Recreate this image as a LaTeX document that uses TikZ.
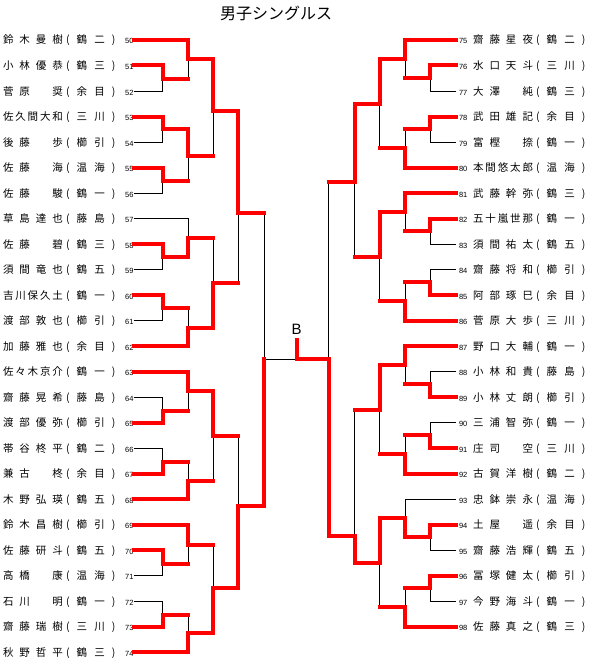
\documentclass[tikz,border=0pt]{standalone}
\usepackage{fontspec}
\setmainfont{Noto Sans CJK JP}
\newfontfamily\numfont{Liberation Sans}
\usetikzlibrary{positioning}

\newcommand{\kara}{\hbox to 1em{}}
\newcommand{\lname}[3]{{\spaceskip=0pt plus 1fil\makebox[60pt][s]{#1}\hspace{3pt}\makebox[49.5pt][s]{( #2 )}}\makebox[18pt][r]{\numfont\fontsize{7.5}{8}\selectfont #3}\hspace{3pt}}
\newcommand{\rname}[3]{\hspace{3pt}\makebox[14pt][l]{\numfont\fontsize{7.5}{8}\selectfont #1}{\spaceskip=0pt plus 1fil\makebox[60pt][s]{#2}\hspace{3pt}\makebox[49.5pt][s]{( #3 )}}}

\begin{document}
\begin{tikzpicture}[x=1pt, y=-1pt,
    player/.style={inner sep=0pt, text height=8pt, text depth=0pt, font=\fontsize{10.5}{12}\selectfont, node distance=25.5pt},
    lose/.style={draw=black, line width=1pt},
    win/.style={draw=red, line width=4pt, line cap=rect}
]
    \useasboundingbox (0,0) rectangle (593,669);
    \node (title) at (276,13.5) {\fontsize{16}{18}\selectfont 男子シングルス};
    \node (champ) at (296.5,329) {\numfont\fontsize{15}{16}\selectfont B};

    \node (p50) [player] at (68.25,40) {\lname{鈴 木 曼 樹}{鶴 二}{50}};
    \node (p51) [player, below of=p50] {\lname{小 林 優 恭}{鶴 三}{51}};
    \node (p52) [player, below of=p51] {\lname{菅 原 \kara{} 奨}{余 目}{52}};
    \node (p53) [player, below of=p52] {\lname{佐 久 間 大 和}{三 川}{53}};
    \node (p54) [player, below of=p53] {\lname{後 藤 \kara{} 歩}{櫛 引}{54}};
    \node (p55) [player, below of=p54] {\lname{佐 藤 \kara{} 海}{温 海}{55}};
    \node (p56) [player, below of=p55] {\lname{佐 藤 \kara{} 駿}{鶴 一}{56}};
    \node (p57) [player, below of=p56] {\lname{草 島 達 也}{藤 島}{57}};
    \node (p58) [player, below of=p57] {\lname{佐 藤 \kara{} 碧}{鶴 三}{58}};
    \node (p59) [player, below of=p58] {\lname{須 間 竜 也}{鶴 五}{59}};
    \node (p60) [player, below of=p59] {\lname{吉 川 保 久 土}{鶴 一}{60}};
    \node (p61) [player, below of=p60] {\lname{渡 部 敦 也}{櫛 引}{61}};
    \node (p62) [player, below of=p61] {\lname{加 藤 雅 也}{余 目}{62}};
    \node (p63) [player, below of=p62] {\lname{佐 々 木 京 介}{鶴 一}{63}};
    \node (p64) [player, below of=p63] {\lname{齋 藤 晃 希}{藤 島}{64}};
    \node (p65) [player, below of=p64] {\lname{渡 部 優 弥}{櫛 引}{65}};
    \node (p66) [player, below of=p65] {\lname{帯 谷 柊 平}{鶴 二}{66}};
    \node (p67) [player, below of=p66] {\lname{兼 古 \kara{} 柊}{余 目}{67}};
    \node (p68) [player, below of=p67] {\lname{木 野 弘 瑛}{鶴 五}{68}};
    \node (p69) [player, below of=p68] {\lname{鈴 木 昌 樹}{櫛 引}{69}};
    \node (p70) [player, below of=p69] {\lname{佐 藤 研 斗}{鶴 五}{70}};
    \node (p71) [player, below of=p70] {\lname{高 橋 \kara{} 康}{温 海}{71}};
    \node (p72) [player, below of=p71] {\lname{石 川 \kara{} 明}{鶴 一}{72}};
    \node (p73) [player, below of=p72] {\lname{齋 藤 瑞 樹}{三 川}{73}};
    \node (p74) [player, below of=p73] {\lname{秋 野 哲 平}{鶴 三}{74}};

    \node (p75) [player] at (520.75,40) {\rname{75}{齋 藤 星 夜}{鶴 二}};
    \node (p76) [player, below of=p75] {\rname{76}{水 口 天 斗}{三 川}};
    \node (p77) [player, below of=p76] {\rname{77}{大 澤 \kara{} 純}{鶴 三}};
    \node (p78) [player, below of=p77] {\rname{78}{武 田 雄 記}{余 目}};
    \node (p79) [player, below of=p78] {\rname{79}{富 樫 \kara{} 捺}{鶴 一}};
    \node (p80) [player, below of=p79] {\rname{80}{本 間 悠 太 郎}{温 海}};
    \node (p81) [player, below of=p80] {\rname{81}{武 藤 幹 弥}{鶴 三}};
    \node (p82) [player, below of=p81] {\rname{82}{五 十 嵐 世 那}{鶴 一}};
    \node (p83) [player, below of=p82] {\rname{83}{須 間 祐 太}{鶴 五}};
    \node (p84) [player, below of=p83] {\rname{84}{齋 藤 将 和}{櫛 引}};
    \node (p85) [player, below of=p84] {\rname{85}{阿 部 琢 巳}{余 目}};
    \node (p86) [player, below of=p85] {\rname{86}{菅 原 大 歩}{三 川}};
    \node (p87) [player, below of=p86] {\rname{87}{野 口 大 輔}{鶴 一}};
    \node (p88) [player, below of=p87] {\rname{88}{小 林 和 貴}{藤 島}};
    \node (p89) [player, below of=p88] {\rname{89}{小 林 丈 朗}{櫛 引}};
    \node (p90) [player, below of=p89] {\rname{90}{三 浦 智 弥}{鶴 一}};
    \node (p91) [player, below of=p90] {\rname{91}{庄 司 \kara{} 空}{三 川}};
    \node (p92) [player, below of=p91] {\rname{92}{古 賀 洋 樹}{鶴 二}};
    \node (p93) [player, below of=p92] {\rname{93}{忠 鉢 崇 永}{温 海}};
    \node (p94) [player, below of=p93] {\rname{94}{土 屋 \kara{} 遥}{余 目}};
    \node (p95) [player, below of=p94] {\rname{95}{齋 藤 浩 輝}{鶴 五}};
    \node (p96) [player, below of=p95] {\rname{96}{冨 塚 健 太}{櫛 引}};
    \node (p97) [player, below of=p96] {\rname{97}{今 野 海 斗}{鶴 一}};
    \node (p98) [player, below of=p97] {\rname{98}{佐 藤 真 之}{鶴 三}};

    \coordinate (ma) at (162.7,79);
    \coordinate (mb) at (188,59);
    \coordinate (mc) at (162.7,129);
    \coordinate (md) at (162.7,181);
    \coordinate (me) at (188,155.7);
    \coordinate (mf) at (213.3,110.7);
    \coordinate (mg) at (162.7,256.7);
    \coordinate (mh) at (188,238.3);
    \coordinate (mi) at (162.7,307.7);
    \coordinate (mj) at (188,327.7);
    \coordinate (mk) at (213.3,282.7);
    \coordinate (ml) at (238.3,212.7);
    \coordinate (mm) at (162.7,410.7);
    \coordinate (mn) at (188,391);
    \coordinate (mo) at (162.7,462);
    \coordinate (mp) at (188,481.3);
    \coordinate (mq) at (213.3,436.3);
    \coordinate (mr) at (162.7,564);
    \coordinate (ms) at (188,544.7);
    \coordinate (mt) at (162.7,615.3);
    \coordinate (mu) at (188,633.3);
    \coordinate (mv) at (213.3,588.3);
    \coordinate (mw) at (238.3,505.7);
    \coordinate (mx) at (264.3,359);

    \coordinate (na) at (430.3,78.3);
    \coordinate (nb) at (405,59.5);
    \coordinate (nc) at (430.3,129.3);
    \coordinate (nd) at (405,148.4);
    \coordinate (ne) at (379.7,104);
    \coordinate (nf) at (430.3,231.3);
    \coordinate (ng) at (405,212.1);
    \coordinate (nh) at (430.3,282.3);
    \coordinate (ni) at (405,301.4);
    \coordinate (nj) at (379.7,256.8);
    \coordinate (nk) at (354.7,182);
    \coordinate (nl) at (430.3,384.3);
    \coordinate (nm) at (405,365.1);
    \coordinate (nn) at (430.3,435.3);
    \coordinate (no) at (405,454.4);
    \coordinate (np) at (379.7,410);
    \coordinate (nq) at (430.3,537.3);
    \coordinate (nr) at (405,518.1);
    \coordinate (ns) at (430.3,588.3);
    \coordinate (nt) at (405,607.4);
    \coordinate (nu) at (379.7,563);
    \coordinate (nv) at (354.7,536);
    \coordinate (nw) at (328.7,359);
    \coordinate (fin) at (296.5,359);
    \coordinate (cup) at (296.5,340);

    \path [lose] (p50.east) -| (mb) -| (mf) -| (ml) -| (mx);
    \path [lose] (p51.east) -| (ma) -| (mb);
    \path [lose] (p52.east) -| (ma);
    \path [lose] (p53.east) -| (mc) -| (me) -| (mf);
    \path [lose] (p54.east) -| (mc);
    \path [lose] (p55.east) -| (md) -| (me);
    \path [lose] (p56.east) -| (md);
    \path [lose] (p57.east) -| (mh) -| (mk) -| (ml);
    \path [lose] (p58.east) -| (mg) -| (mh);
    \path [lose] (p59.east) -| (mg);
    \path [lose] (p60.east) -| (mi) -| (mj) -| (mk);
    \path [lose] (p61.east) -| (mi);
    \path [lose] (p62.east) -| (mj);
    \path [lose] (p63.east) -| (mn) -| (mq) -| (mw) -| (mx);
    \path [lose] (p64.east) -| (mm) -| (mn);
    \path [lose] (p65.east) -| (mm);
    \path [lose] (p66.east) -| (mo) -| (mp) -| (mq);
    \path [lose] (p67.east) -| (mo);
    \path [lose] (p68.east) -| (mp);
    \path [lose] (p69.east) -| (ms) -| (mv) -| (mw);
    \path [lose] (p70.east) -| (mr) -| (ms);
    \path [lose] (p71.east) -| (mr);
    \path [lose] (p72.east) -| (mt) -| (mu) -| (mv);
    \path [lose] (p73.east) -| (mt);
    \path [lose] (p74.east) -| (mu);
    \path [lose] (mx) -- (nw);

    \path [lose] (p75.west) -| (nb) -| (ne) -| (nk) -| (nw);
    \path [lose] (p76.west) -| (na) -| (nb);
    \path [lose] (p77.west) -| (na);
    \path [lose] (p78.west) -| (nc) -| (nd) -| (ne);
    \path [lose] (p79.west) -| (nc);
    \path [lose] (p80.west) -| (nd);
    \path [lose] (p81.west) -| (ng) -| (nj) -| (nk);
    \path [lose] (p82.west) -| (nf) -| (ng);
    \path [lose] (p83.west) -| (nf);
    \path [lose] (p84.west) -| (nh) -| (ni) -| (nj);
    \path [lose] (p85.west) -| (nh);
    \path [lose] (p86.west) -| (ni);
    \path [lose] (p87.west) -| (nm) -| (np) -| (nv) -| (nw);
    \path [lose] (p88.west) -| (nl) -| (nm);
    \path [lose] (p89.west) -| (nl);
    \path [lose] (p90.west) -| (nn) -| (no) -| (np);
    \path [lose] (p91.west) -| (nn);
    \path [lose] (p92.west) -| (no);
    \path [lose] (p93.west) -| (nr) -| (nu) -| (nv);
    \path [lose] (p94.west) -| (nq) -| (nr);
    \path [lose] (p95.west) -| (nq);
    \path [lose] (p96.west) -| (ns) -| (nt) -| (nu);
    \path [lose] (p97.west) -| (ns);
    \path [lose] (p98.west) -| (nt);

    \path [win] (p50.east) -| (mb) -| (mf) -| (ml) -- (ml -| mx);
    \path [win] (p51.east) -| (ma) -- (ma -| mb);
    \path [win] (p53.east) -| (mc) -| (me) -- (me -| mf);
    \path [win] (p55.east) -| (md) -- (md -| me);
    \path [win] (p58.east) -| (mg) -| (mh) -- (mh -| mk);
    \path [win] (p60.east) -| (mi) -- (mi -| mj);
    \path [win] (p62.east) -| (mj) -| (mk) -- (mk -| ml);
    \path [win] (p63.east) -| (mn) -| (mq) -- (mq -| mw);
    \path [win] (p65.east) -| (mm) -- (mm -| mn);
    \path [win] (p67.east) -| (mo) -- (mo -| mp);
    \path [win] (p68.east) -| (mp) -- (mp -| mq);
    \path [win] (p69.east) -| (ms) -- (ms -| mv);
    \path [win] (p70.east) -| (mr) -- (mr -| ms);
    \path [win] (p73.east) -| (mt) -- (mt -| mu);
    \path [win] (p74.east) -| (mu) -| (mv) -| (mw) -| (mx);

    \path [win] (p75.west) -| (nb) -| (ne) -| (nk) -- (nk -| nw);
    \path [win] (p76.west) -| (na) -- (na -| nb);
    \path [win] (p78.west) -| (nc) -- (nc -| nd);
    \path [win] (p80.west) -| (nd) -- (nd -| ne);
    \path [win] (p81.west) -| (ng) -| (nj) -- (nj -| nk);
    \path [win] (p82.west) -| (nf) -- (nf -| ng);
    \path [win] (p85.west) -| (nh) -- (nh -| ni);
    \path [win] (p86.west) -| (ni) -- (ni -| nj);
    \path [win] (p87.west) -| (nm) -| (np) -- (np -| nv);
    \path [win] (p89.west) -| (nl) -- (nl -| nm);
    \path [win] (p91.west) -| (nn) -- (nn -| no);
    \path [win] (p92.west) -| (no) -- (no -| np);
    \path [win] (p94.west) -| (nq) -| (nr) -| (nu) -| (nv) -| (nw) -- (fin) -- (cup);
    \path [win] (p96.west) -| (ns) -- (ns -| nt);
    \path [win] (p98.west) -| (nt) -- (nt -| nu);
\end{tikzpicture}
\end{document}
